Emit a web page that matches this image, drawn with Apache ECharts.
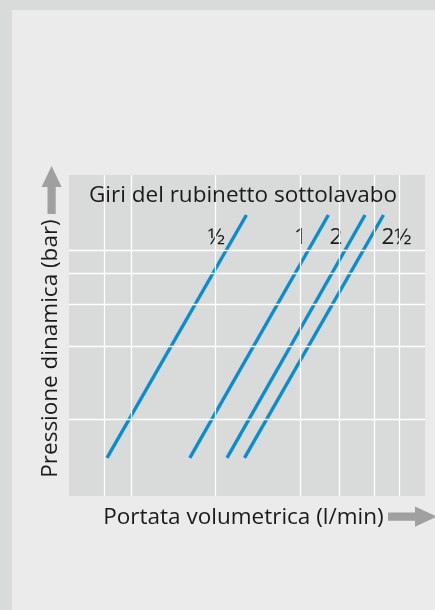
<!DOCTYPE html>
<html>
<head>
<meta charset="utf-8">
<script src="https://cdn.jsdelivr.net/npm/echarts@6/dist/echarts.min.js"></script>
<style>
html,body{margin:0;padding:0;background:#d9dbda;}
#chart{width:435px;height:610px;}
</style>
</head>
<body>
<div id="chart"></div>
<script>
// Curves: faucet turns (giri del rubinetto)
const curveNames = ['½', '1', '2', '2½'];
// flow rate (l/min) at the lower and upper end of each curve
const flowStart = [4.1, 8.1, 11.0, 12.7];
const flowEnd = [12.9, 25.3, 34.2, 39.8];
// dynamic pressure (bar) at the lower and upper end of every curve
const pressureEnds = [0.69, 7.0];
// grid line values
const flowGrid = [4, 5, 10, 20, 27.7, 36.8, 45.3];
const pressureGrid = [1, 2, 3, 4, 5];

const FONT = 'Open Sans';
const FS = 22.5;
const BLUE = '#0a8cd2';
const TEXT = '#1a1a1a';
const labelOffsets = [[-30, 23], [-28, 23], [-29, 23], [13, 23]];

const chart = echarts.init(document.getElementById('chart'), null, {renderer: 'canvas'});

const curveSeries = curveNames.map((name, i) => ({
  type: 'line',
  name: name,
  z: 3,
  symbol: 'circle',
  symbolSize: 0,
  showSymbol: true,
  silent: true,
  lineStyle: {color: BLUE, width: 3.4, cap: 'butt'},
  itemStyle: {color: BLUE},
  data: [
    {value: [flowStart[i], pressureEnds[0]], label: {show: false}},
    {value: [flowEnd[i], pressureEnds[1]], label: {
      show: true, position: 'inside', offset: labelOffsets[i],
      formatter: name, color: TEXT, fontFamily: FONT, fontSize: FS
    }}
  ]
}));

const gridSeries = {
  type: 'line',
  data: [],
  z: 1,
  silent: true,
  markLine: {
    silent: true,
    symbol: ['none', 'none'],
    animation: false,
    label: {show: false},
    lineStyle: {color: '#ffffff', width: 1.3, type: 'solid'},
    emphasis: {disabled: true},
    data: flowGrid.map(v => ({xAxis: v})).concat(pressureGrid.map(v => ({yAxis: v})))
  }
};

chart.setOption({
  animation: false,
  backgroundColor: '#d9dbda',
  textStyle: {fontFamily: FONT},
  grid: {left: 69, top: 175, right: 10, bottom: 114, show: true, backgroundColor: '#d9dbda', borderWidth: 0},
  title: {
    text: 'Giri del rubinetto sottolavabo',
    left: 243, top: 184, textAlign: 'center', padding: 0,
    textStyle: {fontFamily: FONT, fontSize: FS, fontWeight: 'normal', color: TEXT}
  },
  xAxis: {
    type: 'log', logBase: 10, min: 3, max: 56,
    name: 'Portata volumetrica (l/min)', nameLocation: 'middle', nameGap: 10,
    nameTextStyle: {fontFamily: FONT, fontSize: FS, color: TEXT, padding: [0, 7, 0, 0]},
    axisLine: {show: false}, axisTick: {show: false}, axisLabel: {show: false}, splitLine: {show: false}
  },
  yAxis: {
    type: 'log', logBase: 10, min: 0.48, max: 10.25,
    name: 'Pressione dinamica (bar)', nameLocation: 'middle', nameGap: 7, nameRotate: 90,
    nameTextStyle: {fontFamily: FONT, fontSize: FS, color: TEXT, padding: [0, 26, 0, 0]},
    axisLine: {show: false}, axisTick: {show: false}, axisLabel: {show: false}, splitLine: {show: false}
  },
  graphic: [
    {type: 'rect', z: -10, silent: true, shape: {x: 12, y: 10, width: 423, height: 600}, style: {fill: '#ebebeb'}},
    {type: 'rect', z: 5, silent: true, shape: {x: 69, y: 180, width: 356, height: 27}, style: {fill: '#d9dbda'}},
    {type: 'polygon', z: 5, silent: true, shape: {points: [[47.5,214],[47.5,187],[41.6,187],[51.6,166],[61.6,187],[55.7,187],[55.7,214]]}, style: {fill: '#a0a0a0'}},
    {type: 'polygon', z: 5, silent: true, shape: {points: [[388,512.5],[415,512.5],[415,506.5],[437,516.6],[415,526.7],[415,520.7],[388,520.7]]}, style: {fill: '#a0a0a0'}}
  ],
  series: [gridSeries].concat(curveSeries)
});
</script>
</body>
</html>
